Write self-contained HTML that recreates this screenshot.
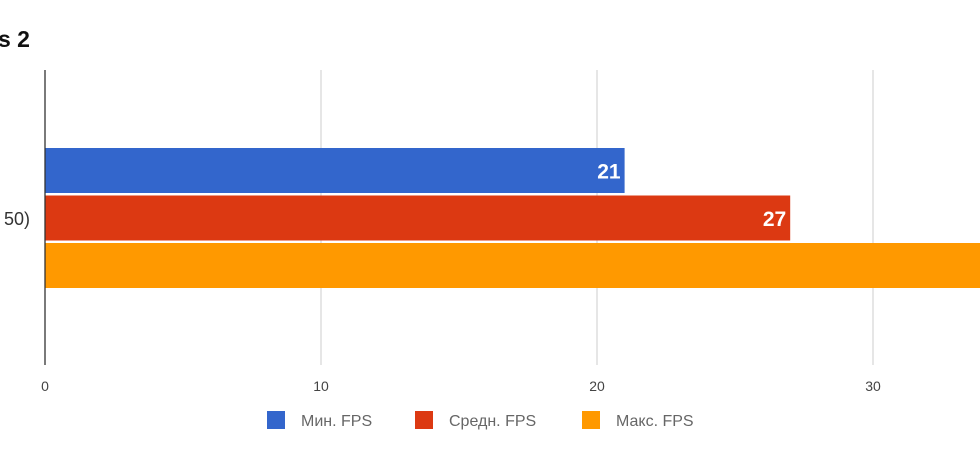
<!DOCTYPE html>
<html><head><meta charset="utf-8"><style>
body{margin:0;background:#fff;}
svg{display:block;font-family:"Liberation Sans","Noto Sans CJK SC",sans-serif;}
</style></head><body>
<svg id="chart" width="980" height="450">
<text x="-2" y="47" font-size="23" font-weight="bold" fill="#111">s 2</text>
<g id="grid"></g>
<g id="bars"></g>
<text x="30" y="225" font-size="18" fill="#333" text-anchor="end">50)</text>
<line x1="45" y1="70" x2="45" y2="365" stroke="#333" stroke-width="1.3"/>
<g id="legend"></g>
</svg>
<script>
const categories = ["50)"];
const seriesNames = ["Мин. FPS", "Средн. FPS", "Макс. FPS"];
const seriesValues = [21, 27, 38];
const tickValues = [0, 10, 20, 30];
const colors = ["#3366cc", "#dc3912", "#ff9900"];
const NS = "http://www.w3.org/2000/svg";
const x0 = 45, pxPerUnit = 27.6;
function xScale(v){ return x0 + v * pxPerUnit; }
function mk(tag, attrs, parent){ const e = document.createElementNS(NS, tag); for (const k in attrs) e.setAttribute(k, attrs[k]); parent.appendChild(e); return e; }
const grid = document.getElementById("grid");
tickValues.forEach(t => {
  const x = xScale(t);
  if (t !== 0) {
    const l = mk("line", {x1: x, y1: 70, x2: x, y2: 365, stroke: "#ccc", "stroke-width": 1}, grid);
    
    
  }
  const tx = mk("text", {x: x, y: 391, "font-size": 14, fill: "#444", "text-anchor": "middle"}, grid);
  tx.textContent = t;
  
  
});
const bars = document.getElementById("bars");
const barTop = 148, barH = 45, gap = 2.5;
seriesValues.forEach((v, i) => {
  const y = barTop + i * (barH + gap);
  const r = mk("rect", {x: x0, y: y, width: xScale(v) - x0, height: barH, fill: colors[i]}, bars);
  
  
  const t = mk("text", {x: xScale(v) - 4, y: y + barH / 2 + 8, "font-size": 21, "font-weight": "bold", fill: "#fff", "text-anchor": "end"}, bars);
  t.textContent = v;
  
  
});
const legend = document.getElementById("legend");
const legendX = [267, 415, 582];
seriesNames.forEach((n, i) => {
  const g = mk("g", {}, legend);
  
  
  const s = mk("rect", {x: legendX[i], y: 411, width: 18, height: 18, fill: colors[i]}, g);
  
  
  const t = mk("text", {x: legendX[i] + 34, y: 426, "font-size": 16, fill: "#666"}, g);
  t.textContent = n;
  
  
});
</script>
</body></html>
